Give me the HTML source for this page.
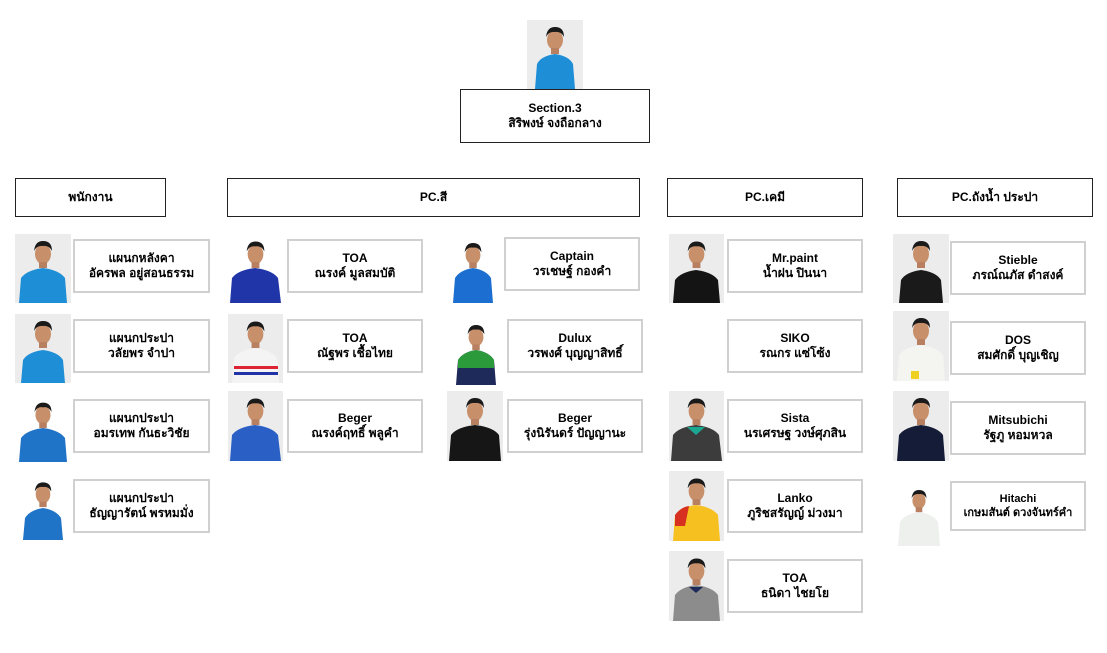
<!DOCTYPE html>
<html><head><meta charset="utf-8"><style>
body{margin:0;background:#fff;width:1107px;height:653px;position:relative;overflow:hidden;font-family:"Liberation Sans","Noto Sans CJK SC",sans-serif;}
.h{position:absolute;border:1.5px solid #222;box-sizing:border-box;display:flex;align-items:center;justify-content:center;font-weight:bold;font-size:12px;color:#000;text-align:center;line-height:15px}
.b{position:absolute;border:2px solid #d0d0d0;box-sizing:border-box;display:flex;align-items:center;justify-content:center;font-weight:bold;font-size:12px;color:#000;text-align:center;line-height:15px;background:#fff}
svg.p{position:absolute}
</style></head><body>
<svg width="0" height="0" style="position:absolute"><defs>
<symbol id="head" viewBox="0 0 56 70"><ellipse cx="28" cy="20" rx="8" ry="10" fill="#c8906a"/><path d="M19 17 Q20 7 28 7 Q37 7 37 17 Q34 11 28 12 Q22 11 19 17Z" fill="#1a1a1a"/><rect x="24" y="28" width="8" height="6" fill="#b88060"/></symbol>
</defs></svg>

<!-- top -->
<svg class="p" style="left:527px;top:20px" width="56" height="69"><rect width="56" height="69" fill="#ececec"/><path d="M8 69 L10 44 Q14 36 28 34 Q42 36 46 44 L48 69Z" fill="#1e8ed6"/><use href="#head" width="56" height="70"/></svg>
<div class="h" style="left:460px;top:89px;width:190px;height:54px">Section.3<br>สิริพงษ์ จงถือกลาง</div>

<div class="h" style="left:15px;top:178px;width:151px;height:39px">พนักงาน</div>
<div class="h" style="left:227px;top:178px;width:413px;height:39px">PC.สี</div>
<div class="h" style="left:667px;top:178px;width:196px;height:39px">PC.เคมี</div>
<div class="h" style="left:897px;top:178px;width:196px;height:39px">PC.ถังน้ำ ประปา</div>

<!-- col1 -->
<svg class="p" style="left:15px;top:234px" width="56" height="69"><rect width="56" height="69" fill="#ececec"/><path d="M4 69 L6 44 Q12 36 28 34 Q44 36 50 44 L52 69Z" fill="#1e8ed6"/><use href="#head" width="56" height="70"/></svg>
<div class="b" style="left:73px;top:239px;width:137px;height:54px">แผนกหลังคา<br>อัครพล อยู่สอนธรรม</div>
<svg class="p" style="left:15px;top:314px" width="56" height="69"><rect width="56" height="69" fill="#ececec"/><path d="M6 69 L8 46 Q13 38 28 36 Q43 38 48 46 L50 69Z" fill="#1e8ed6"/><use href="#head" width="56" height="70"/></svg>
<div class="b" style="left:73px;top:319px;width:137px;height:54px">แผนกประปา<br>วลัยพร จำปา</div>
<svg class="p" style="left:15px;top:396px" width="56" height="66"><rect width="56" height="66" fill="#fff"/><path d="M4 66 L6 42 Q12 34 28 32 Q44 34 50 42 L52 66Z" fill="#1f74c8"/><use href="#head" width="56" height="66"/></svg>
<div class="b" style="left:73px;top:399px;width:137px;height:54px">แผนกประปา<br>อมรเทพ กันธะวิชัย</div>
<svg class="p" style="left:15px;top:476px" width="56" height="64"><rect width="56" height="64" fill="#fff"/><path d="M8 64 L10 42 Q15 34 28 32 Q41 34 46 42 L48 64Z" fill="#1f74c8"/><use href="#head" width="56" height="64"/></svg>
<div class="b" style="left:73px;top:479px;width:137px;height:54px">แผนกประปา<br>ธัญญารัตน์ พรหมมั่ง</div>

<!-- col2 -->
<svg class="p" style="left:228px;top:234px" width="55" height="69"><rect width="55" height="69" fill="#fff"/><path d="M2 69 L4 44 Q10 36 27 34 Q44 36 50 44 L53 69Z" fill="#2036a8"/><use href="#head" width="55" height="70"/></svg>
<div class="b" style="left:287px;top:239px;width:136px;height:54px">TOA<br>ณรงค์ มูลสมบัติ</div>
<svg class="p" style="left:228px;top:314px" width="55" height="69"><rect width="55" height="69" fill="#ececec"/><path d="M4 69 L6 44 Q12 36 27 34 Q43 36 49 44 L51 69Z" fill="#f4f4f4"/><rect x="6" y="52" width="44" height="3" fill="#d23"/><rect x="6" y="58" width="44" height="3" fill="#23a"/><use href="#head" width="55" height="70"/></svg>
<div class="b" style="left:287px;top:319px;width:136px;height:54px">TOA<br>ณัฐพร เชื้อไทย</div>
<svg class="p" style="left:228px;top:391px" width="55" height="70"><rect width="55" height="70" fill="#ececec"/><path d="M2 70 L4 44 Q10 36 27 34 Q44 36 50 44 L53 70Z" fill="#2a5fc6"/><use href="#head" width="55" height="70"/></svg>
<div class="b" style="left:287px;top:399px;width:136px;height:54px">Beger<br>ณรงค์ฤทธิ์ พลูคำ</div>

<!-- col3 -->
<svg class="p" style="left:447px;top:234px" width="52" height="69"><rect width="52" height="69" fill="#fff"/><path d="M6 69 L8 44 Q13 36 26 34 Q39 36 44 44 L46 69Z" fill="#1c6fd0"/><use href="#head" width="52" height="70"/></svg>
<div class="b" style="left:504px;top:237px;width:136px;height:54px">Captain<br>วรเชษฐ์ กองคำ</div>
<svg class="p" style="left:450px;top:316px" width="52" height="69"><rect width="52" height="69" fill="#fff"/><path d="M6 69 L8 44 Q13 36 26 34 Q39 36 44 44 L46 69Z" fill="#1d2a5a"/><path d="M8 44 Q13 36 26 34 Q39 36 44 44 L44 52 L8 52Z" fill="#2a9a3a"/><use href="#head" width="52" height="70"/></svg>
<div class="b" style="left:507px;top:319px;width:136px;height:54px">Dulux<br>วรพงศ์ บุญญาสิทธิ์</div>
<svg class="p" style="left:447px;top:391px" width="56" height="70"><rect width="56" height="70" fill="#ececec"/><path d="M2 70 L4 44 Q10 36 28 34 Q46 36 52 44 L54 70Z" fill="#161616"/><use href="#head" width="56" height="70"/></svg>
<div class="b" style="left:507px;top:399px;width:136px;height:54px">Beger<br>รุ่งนิรันดร์ ปัญญานะ</div>

<!-- col4 -->
<svg class="p" style="left:669px;top:234px" width="55" height="69"><rect width="55" height="69" fill="#ececec"/><path d="M4 69 L6 46 Q12 38 27 36 Q43 38 49 46 L51 69Z" fill="#141414"/><use href="#head" width="55" height="70"/></svg>
<div class="b" style="left:727px;top:239px;width:136px;height:54px">Mr.paint<br>น้ำฝน ปินนา</div>
<div class="b" style="left:727px;top:319px;width:136px;height:54px">SIKO<br>รณกร แซ่โซ้ง</div>
<svg class="p" style="left:669px;top:391px" width="55" height="70"><rect width="55" height="70" fill="#ececec"/><path d="M2 70 L4 44 Q10 36 27 34 Q44 36 50 44 L53 70Z" fill="#3c3c3c"/><path d="M18 36 L27 44 L36 36Z" fill="#1aa890"/><use href="#head" width="55" height="70"/></svg>
<div class="b" style="left:727px;top:399px;width:136px;height:54px">Sista<br>นรเศรษฐ วงษ์ศุภสิน</div>
<svg class="p" style="left:669px;top:471px" width="55" height="70"><rect width="55" height="70" fill="#ececec"/><path d="M4 70 L6 44 Q12 36 27 34 Q43 36 49 44 L51 70Z" fill="#f5c020"/><path d="M6 44 Q12 36 20 35 L16 55 L6 55Z" fill="#d83020"/><use href="#head" width="55" height="70"/></svg>
<div class="b" style="left:727px;top:479px;width:136px;height:54px">Lanko<br>ภูริชสรัญญ์ ม่วงมา</div>
<svg class="p" style="left:669px;top:551px" width="55" height="70"><rect width="55" height="70" fill="#ececec"/><path d="M4 70 L6 44 Q12 36 27 34 Q43 36 49 44 L51 70Z" fill="#8c8c8c"/><path d="M20 36 L27 42 L34 36Z" fill="#1d2a5a"/><use href="#head" width="55" height="70"/></svg>
<div class="b" style="left:727px;top:559px;width:136px;height:54px">TOA<br>ธนิดา ไชยโย</div>

<!-- col5 -->
<svg class="p" style="left:893px;top:234px" width="56" height="69"><rect width="56" height="69" fill="#ececec"/><path d="M6 69 L8 46 Q13 38 28 36 Q43 38 48 46 L50 69Z" fill="#1a1a1a"/><use href="#head" width="56" height="70"/></svg>
<div class="b" style="left:950px;top:241px;width:136px;height:54px">Stieble<br>ภรณ์ณภัส ดำสงค์</div>
<svg class="p" style="left:893px;top:311px" width="56" height="70"><rect width="56" height="70" fill="#ececec"/><path d="M4 70 L6 44 Q12 36 28 34 Q44 36 50 44 L52 70Z" fill="#f4f4f0"/><rect x="18" y="60" width="8" height="8" fill="#f0d020"/><use href="#head" width="56" height="70"/></svg>
<div class="b" style="left:950px;top:321px;width:136px;height:54px">DOS<br>สมศักดิ์ บุญเชิญ</div>
<svg class="p" style="left:893px;top:391px" width="56" height="70"><rect width="56" height="70" fill="#ececec"/><path d="M4 70 L6 44 Q12 36 28 34 Q44 36 50 44 L52 70Z" fill="#141c38"/><use href="#head" width="56" height="70"/></svg>
<div class="b" style="left:950px;top:401px;width:136px;height:54px">Mitsubichi<br>รัฐภู หอมหวล</div>
<svg class="p" style="left:896px;top:478px" width="46" height="68"><rect width="46" height="68" fill="#fff"/><path d="M2 68 L4 44 Q9 36 23 34 Q37 36 42 44 L44 68Z" fill="#eef0ee"/><use href="#head" width="46" height="70"/></svg>
<div class="b" style="left:950px;top:481px;width:136px;height:50px;font-size:11px;line-height:14px">Hitachi<br>เกษมสันต์ ดวงจันทร์คำ</div>
</body></html>
